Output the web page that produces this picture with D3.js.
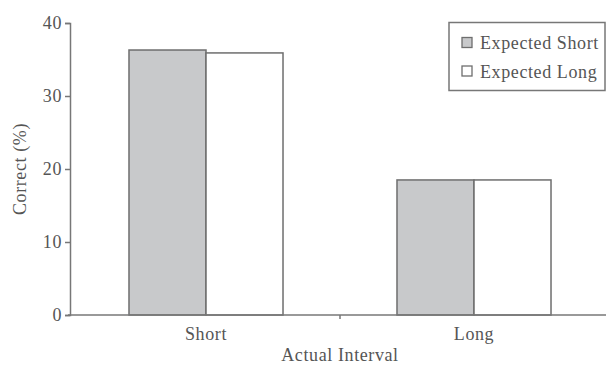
<!DOCTYPE html>
<html><head><meta charset="utf-8">
<script src="https://cdn.jsdelivr.net/npm/d3@7/dist/d3.min.js"></script>
<style>body{margin:0;background:#fff}svg{display:block}text{font-family:"Liberation Serif","DejaVu Serif",serif;fill:#555;letter-spacing:0.6px}</style>
</head><body><svg id="c" width="606" height="365"></svg>
<script>
const categories = ["Short", "Long"];
const seriesNames = ["Expected Short", "Expected Long"];
const expectedShort = [36.3, 18.5];
const expectedLong = [35.9, 18.5];
const yTicks = [0, 10, 20, 30, 40];

const svg = d3.select("#c");
const x = d3.scaleBand().domain(categories).range([72, 608]).paddingInner(0).paddingOuter(0);
const sub = d3.scaleBand().domain(seriesNames).range([0, x.bandwidth()]).paddingInner(0).paddingOuter(0.74);
const y = d3.scaleLinear().domain([0, 40]).range([315, 23]);
const fills = ["#c8c9cb", "#ffffff"];
const stroke = "#6e6e6e";
const fs = "18px";

const data = categories.map((c, i) => ({c, vals: [expectedShort[i], expectedLong[i]]}));
const g = svg.append("g");
data.forEach(d => {
  d.vals.forEach((v, j) => {
    g.append("rect")
      .attr("x", x(d.c) + sub(seriesNames[j]))
      .attr("y", y(v))
      .attr("width", sub.bandwidth())
      .attr("height", y(0) - y(v))
      .attr("fill", fills[j]).attr("stroke", stroke).attr("stroke-width", 1.5);
  });
});

// y axis
const ya = svg.append("g").attr("transform", "translate(70,0)")
  .call(d3.axisLeft(y).tickValues(yTicks).tickSize(5).tickPadding(3));
ya.select(".domain").attr("stroke", "#777").attr("stroke-width", 1.5);
ya.selectAll(".tick line").attr("stroke", "#777").attr("stroke-width", 1.5);
ya.selectAll("text").style("font-size", fs).attr("fill", "#555").attr("font-family", null);

// x axis
svg.append("line").attr("x1", 68).attr("x2", 606).attr("y1", 315).attr("y2", 315)
  .attr("stroke", "#777").attr("stroke-width", 1.5);
const xa = svg.append("g").attr("transform", "translate(0,315)")
  .call(d3.axisBottom(x).tickSize(0).tickPadding(12));
xa.select(".domain").remove();
xa.selectAll("text").style("font-size", fs).attr("fill", "#555").attr("dy", null).attr("y", 25);
// separator tick between categories
svg.append("line").attr("x1", x("Long")).attr("x2", x("Long")).attr("y1", 315).attr("y2", 319)
  .attr("stroke", "#777").attr("stroke-width", 1.5);

// axis titles
svg.append("text").attr("x", 340).attr("y", 361)
  .attr("text-anchor", "middle").style("font-size", fs).text("Actual Interval");
svg.append("text").attr("transform", "translate(26,169) rotate(-90)")
  .attr("text-anchor", "middle").style("font-size", fs).text("Correct (%)");

// legend
const lg = svg.append("g");
lg.append("rect").attr("x", 449).attr("y", 22.5).attr("width", 156).attr("height", 68)
  .attr("fill", "#fff").attr("stroke", "#777").attr("stroke-width", 1.5);
seriesNames.forEach((s, j) => {
  lg.append("rect").attr("x", 462).attr("y", 37.5 + j*28.5).attr("width", 10).attr("height", 10)
    .attr("fill", fills[j]).attr("stroke", stroke).attr("stroke-width", 1.3);
  lg.append("text").attr("x", 480).attr("y", 49 + j*28.5).style("font-size", fs).text(s);
});
</script></body></html>
